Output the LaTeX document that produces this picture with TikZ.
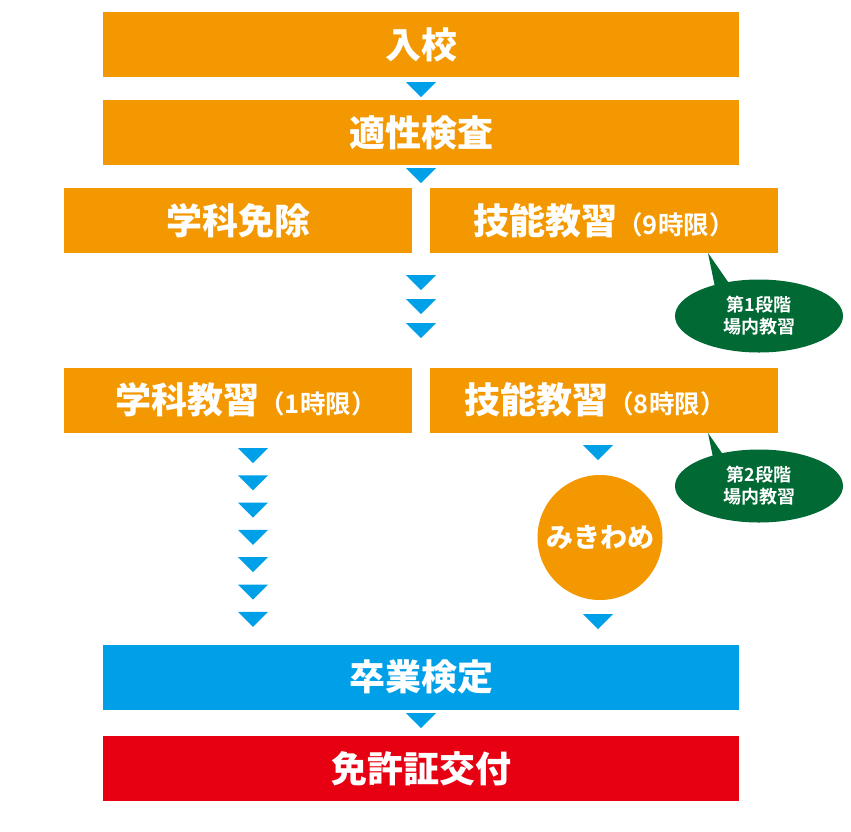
\documentclass[tikz,border=0pt]{standalone}
\usepackage{fontspec}
\usepackage{tikz}
\usetikzlibrary{shapes.geometric}
\IfFontExistsTF{Noto Sans CJK JP Black}
  {\newfontfamily\jpheavy{Noto Sans CJK JP Black}}
  {\newfontfamily\jpheavy{Noto Sans CJK JP Bold}[FakeBold=1.2]}
\newfontfamily\jpbold{Noto Sans CJK JP Bold}
\definecolor{flowOrange}{HTML}{F39800}
\definecolor{flowBlue}{HTML}{00A0E9}
\definecolor{flowRed}{HTML}{E60012}
\definecolor{flowGreen}{HTML}{006934}
\newcommand{\jikan}[1]{{\jpbold\fontsize{25.5}{28}\selectfont （#1時限）}}

\begin{document}
\begin{tikzpicture}[x=1pt,y=-1pt,
    flowbox/.style={fill=flowOrange,minimum height=65pt,inner sep=0pt,
      text=white,font=\jpheavy\fontsize{36}{40}\selectfont},
    widebox/.style={flowbox,minimum width=636pt},
    halfbox/.style={flowbox,minimum width=348pt},
    note/.style={ellipse,fill=flowGreen,minimum width=168pt,minimum height=73pt,
      inner sep=0pt,text=white,align=center,
      font=\jpbold\fontsize{18}{22}\selectfont},
    downtri/.pic={\fill[flowBlue] (-15,0) -- (15,0) -- (0,15) -- cycle;}]
  \useasboundingbox (0,0) rectangle (851,831);
  % main flow
  \node[widebox] (nyuko) at (421,44.5) {入校};
  \node[widebox] (tekisei) at (421,132.5) {適性検査};
  \node[halfbox] (menjo) at (238,220.5) {学科免除};
  \node[halfbox] (gino1) at (604,220.5) {技能教習\jikan{9}};
  \node[halfbox] (gakka) at (238,400) {\hspace*{16pt}学科教習\jikan{1}};
  \node[halfbox] (gino2) at (604,400) {技能教習\jikan{8}\hspace*{18pt}};
  \node[circle,fill=flowOrange,minimum size=125pt,inner sep=0pt,text=white,
    font=\jpheavy\fontsize{27}{30}\selectfont] (mikiwame) at (600,537.5) {みきわめ};
  \node[widebox,fill=flowBlue] (sotsugyo) at (421,677) {卒業検定};
  \node[widebox,fill=flowRed] (menkyo) at (421,768.5) {免許証交付};
  % speech bubbles
  \fill[flowGreen] (708,253) -- (716,292) -- (733,289) -- cycle;
  \node[note] (dan1) at (759,316) {第1段階\\場内教習};
  \fill[flowGreen] (708,433) -- (716,472) -- (733,469) -- cycle;
  \node[note] (dan2) at (759,486) {第2段階\\場内教習};
  % arrows
  \pic at (421,82) {downtri};
  \pic at (421,168) {downtri};
  \foreach \y in {275,299,323}
    \pic at (421,\y) {downtri};
  \foreach \k in {0,...,6}
    \pic at (253,448+27.3*\k) {downtri};
  \pic at (598,445) {downtri};
  \pic at (598,614) {downtri};
  \pic at (421,713) {downtri};
\end{tikzpicture}
\end{document}
